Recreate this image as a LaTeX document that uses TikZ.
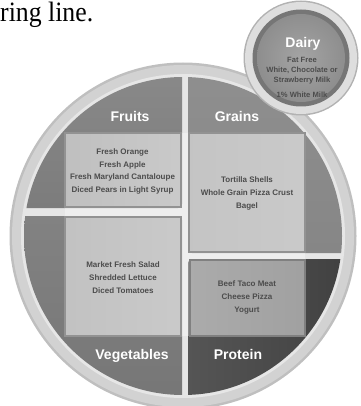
\documentclass[tikz,border=0pt]{standalone}
\usepackage{fontspec}
\setmainfont{Liberation Sans}
\newfontfamily\serifhead{Liberation Serif}
\usepackage{graphicx}
\definecolor{rimout}{HTML}{BFBFBF}
\definecolor{rim}{HTML}{D2D2D2}
\definecolor{gapc}{HTML}{E6E6E6}
\definecolor{fruitq}{HTML}{7C7C7C}
\definecolor{grainq}{HTML}{868686}
\definecolor{vegq}{HTML}{828282}
\definecolor{protl}{HTML}{555555}
\definecolor{protr}{HTML}{3A3A3A}
\definecolor{panelb}{HTML}{929292}
\definecolor{itemc}{HTML}{4C4C4C}
\definecolor{dairyring}{HTML}{767676}
\definecolor{dairyin}{HTML}{A4A4A4}
\definecolor{dairyout}{HTML}{8E8E8E}
\tikzset{
  qlabel/.style={anchor=base, inner sep=0pt, text=white, font=\fontsize{14}{14}\selectfont\bfseries},
  items/.style={align=center, inner sep=0pt, text=itemc, font=\fontsize{8}{12.8}\selectfont\bfseries},
  dairyitems/.style={align=center, inner sep=0pt, text=itemc, font=\fontsize{7.6}{10}\selectfont\bfseries},
  panel/.style={draw=panelb, line width=1.3pt},
}
\begin{document}
\begin{tikzpicture}[x=1pt,y=-1pt]
\useasboundingbox (0,0) rectangle (360,406);
% header text
\node[anchor=base west, inner sep=0pt, font=\serifhead\fontsize{28}{28}\selectfont] (head) at (0,22) {\scalebox{0.92}[1]{ring line.}};
% plate
\coordinate (pc) at (183,236);
\fill[rimout] (pc) circle (173.5pt);
\shade[inner color=rim!80!white, outer color=rim] (pc) circle (171pt);
\fill[gapc] (pc) circle (162pt);
\begin{scope}
  \clip (pc) circle (159pt);
  \shade[top color=fruitq!85!white, bottom color=fruitq, rounded corners=4pt] (0,0) rectangle (182,208);
  \shade[top color=grainq!90!white, bottom color=grainq, rounded corners=4pt] (188,0) rectangle (400,253);
  \shade[top color=vegq, bottom color=vegq!90!black, rounded corners=4pt] (0,216) rectangle (182,420);
  \shade[left color=protl, right color=protr, rounded corners=4pt] (188,259) rectangle (400,420);
\end{scope}
% light overlay
\fill[white, opacity=0.35] (65,133) rectangle (305,336);
% panels
\shade[panel, left color=black!25, right color=black!21] (65,133) rectangle (181,207);
\shade[panel, left color=black!23, right color=black!21] (189,133) rectangle (305,252);
\shade[panel, left color=black!24, right color=black!21] (65,217) rectangle (181,336);
\shade[panel, left color=black!33, right color=black!37, draw=black!50] (190,260) rectangle (305,336);
% labels
\node[qlabel] (fruits) at (130,122) {Fruits};
\node[qlabel] (grains) at (237,122) {Grains};
\node[qlabel] (veg) at (132,359) {Vegetables};
\node[qlabel] (prot) at (238,359) {Protein};
% items
\node[items] (fitems) at (122.5,171.5) {Fresh Orange\\Fresh Apple\\Fresh Maryland Cantaloupe\\Diced Pears in Light Syrup};
\node[items] (gitems) at (247,193.5) {Tortilla Shells\\Whole Grain Pizza Crust\\Bagel};
\node[items] (vitems) at (123,277.5) {Market Fresh Salad\\Shredded Lettuce\\Diced Tomatoes};
\node[items] (pitems) at (247,297.5) {Beef Taco Meat\\Cheese Pizza\\Yogurt};
% dairy
\coordinate (dc) at (301,58);
\fill[black!30] (dc) circle (57.5pt);
\fill[black!13] (dc) circle (56pt);
\fill[dairyring] (dc) circle (48.5pt);
\shade[inner color=dairyin, outer color=dairyout] (dc) circle (44pt);
\node[qlabel] (dairy) at (303,48) {Dairy};
\node[dairyitems] (ditems) at (302,77.5) {Fat Free\\White, Chocolate or\\Strawberry Milk\\[5pt]1\% White Milk};
\end{tikzpicture}
\end{document}
